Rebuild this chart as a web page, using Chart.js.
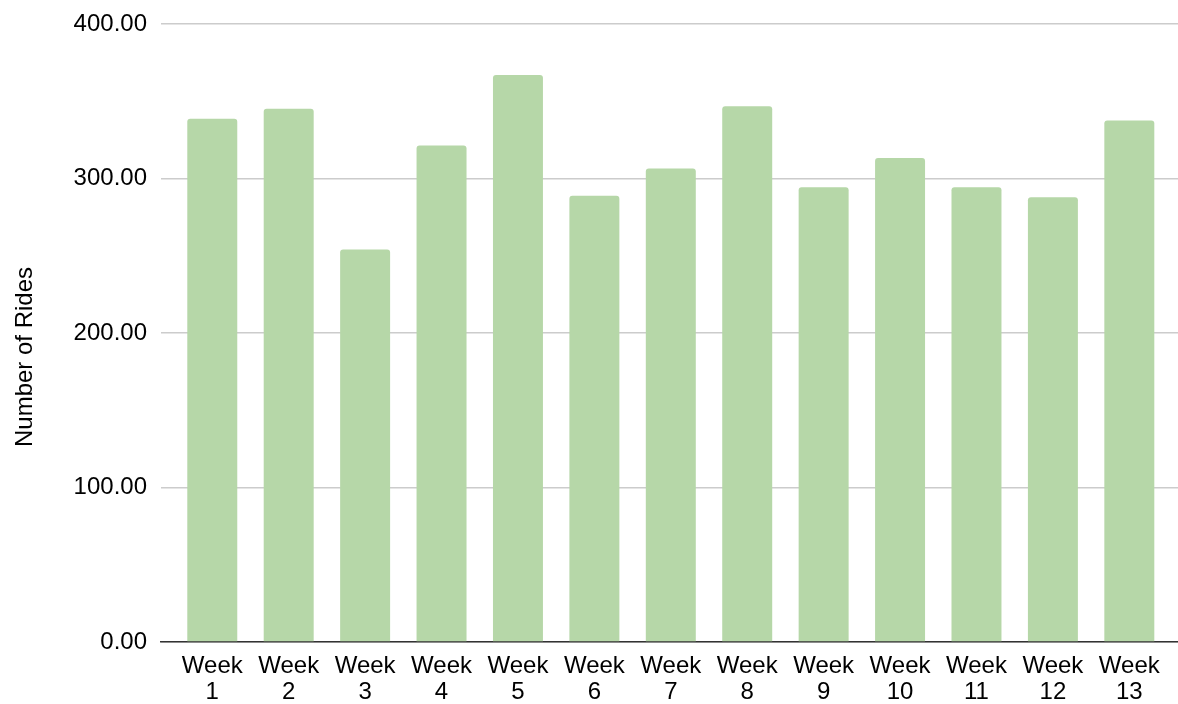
<!DOCTYPE html>
<html>
<head>
<meta charset="utf-8">
<script src="https://cdn.jsdelivr.net/npm/chart.js@4.4.1/dist/chart.umd.min.js"></script>
<style>
  html, body { margin: 0; padding: 0; background: #ffffff; }
  #wrap { width: 1178px; height: 704px; position: relative; }
</style>
</head>
<body>
<div id="wrap"><canvas id="rides" width="1178" height="704"></canvas></div>
<script>
// Weekly ride counts
const weeks = [1, 2, 3, 4, 5, 6, 7, 8, 9, 10, 11, 12, 13];
const rides = [338.7, 345.2, 254.0, 321.3, 367.0, 288.9, 306.4, 346.7, 294.3, 313.3, 294.3, 287.8, 337.5];
const yTicks = [0, 100, 200, 300, 400];
const yTitle = 'Number of Rides';

const FONT = '"Liberation Sans", Arial, Helvetica, sans-serif';
const points = weeks.map((w, i) => ({ x: i, y: rides[i] }));

// Rotated axis title, placed against the left edge of the canvas
const sideTitle = {
  id: 'sideTitle',
  afterDraw(chart) {
    const ctx = chart.ctx;
    ctx.save();
    ctx.translate(32, 357);
    ctx.rotate(-Math.PI / 2);
    ctx.font = '24px ' + FONT;
    ctx.fillStyle = '#000000';
    ctx.textAlign = 'center';
    ctx.textBaseline = 'alphabetic';
    ctx.fillText(yTitle, 0, 0);
    ctx.restore();
  }
};

new Chart(document.getElementById('rides'), {
  type: 'bar',
  data: {
    datasets: [{
      data: points,
      backgroundColor: '#b6d7a8',
      borderWidth: 0,
      borderRadius: { topLeft: 3, topRight: 3, bottomLeft: 0, bottomRight: 0 },
      borderSkipped: 'bottom',
      categoryPercentage: 1.0,
      barPercentage: 0.654
    }]
  },
  plugins: [sideTitle],
  options: {
    responsive: false,
    animation: false,
    layout: { padding: { top: 24, right: 0, bottom: 0, left: 0 } },
    plugins: { legend: { display: false }, tooltip: { enabled: false } },
    scales: {
      x: {
        type: 'linear',
        offset: false,
        min: -0.671,
        max: 12.637,
        afterBuildTicks: scale => { scale.ticks = weeks.map((w, i) => ({ value: i })); },
        afterFit: scale => { scale.height = 62; },
        grid: { display: true, drawOnChartArea: false, drawTicks: false },
        border: { display: true, color: '#333333', width: 1.5 },
        ticks: {
          color: '#000000',
          padding: 11,
          maxRotation: 0,
          autoSkip: false,
          font: { family: FONT, size: 24, lineHeight: 1.1 },
          callback: v => ['Week', String(weeks[v])]
        }
      },
      y: {
        min: yTicks[0],
        max: yTicks[yTicks.length - 1],
        afterFit: scale => {
          scale.width = 161;
          scale.paddingTop = 0;
          scale.paddingBottom = 0;
        },
        afterBuildTicks: scale => { scale.ticks = yTicks.map(v => ({ value: v })); },
        grid: { color: '#cccccc', lineWidth: 1.5, drawTicks: false },
        border: { display: false },
        ticks: {
          color: '#000000',
          padding: 14,
          font: { family: FONT, size: 24 },
          callback: v => Number(v).toFixed(2)
        }
      }
    }
  }
});
</script>
</body>
</html>
